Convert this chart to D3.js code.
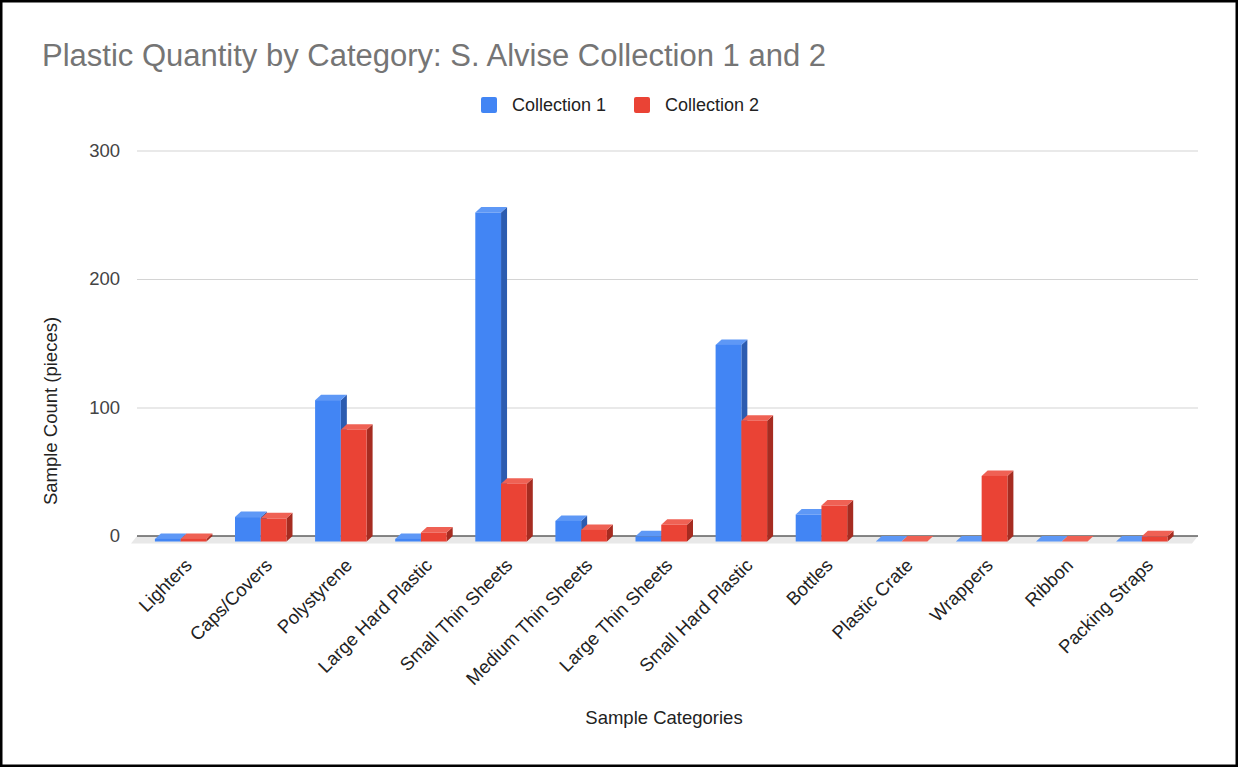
<!DOCTYPE html>
<html>
<head>
<meta charset="utf-8">
<script src="https://cdn.jsdelivr.net/npm/d3@7/dist/d3.min.js"></script>
<style>
  html, body { margin: 0; padding: 0; background: #fff; }
  svg { display: block; font-family: Arial, "Liberation Sans", sans-serif; }
</style>
</head>
<body>
<svg id="chart" width="1238" height="767"></svg>
<script>
// Plastic sample counts per category for the two S. Alvise collections
const categories = [
  "Lighters", "Caps/Covers", "Polystyrene", "Large Hard Plastic",
  "Small Thin Sheets", "Medium Thin Sheets", "Large Thin Sheets",
  "Small Hard Plastic", "Bottles", "Plastic Crate", "Wrappers",
  "Ribbon", "Packing Straps"
];
const seriesNames = ["Collection 1", "Collection 2"];
const collection1 = [2, 19, 110, 2, 256, 16, 4, 153, 21, 0, 0, 0, 0];
const collection2 = [2, 18, 87, 7, 45, 9, 13, 94, 28, 0, 51, 0, 4];
const yTicks = [0, 100, 200, 300];

const W = 1238, H = 767;
const svg = d3.select("#chart");

// Colours: front, top (lit) and side (shaded) faces per series
const palette = [
  { front: "#4285f4", top: "#5e98f6", side: "#2c5cb0" },
  { front: "#ea4335", top: "#ef6154", side: "#a62c21" }
];

// Plot geometry (back plane for the grid, front plane offset for the 3D boxes)
const gridLeft = 137, gridRight = 1198;
const depthX = 6, depthY = 5.5;

const y = d3.scaleLinear().domain([0, 300]).range([536, 150.5]);
const x = d3.scaleBand()
  .domain(categories)
  .range([140.6, 1181.9])
  .paddingInner(0.357)
  .paddingOuter(0.1785);
const xs = d3.scaleBand().domain(seriesNames).range([0, x.bandwidth()]);

// Outer frame
svg.append("rect")
  .attr("x", 1.25).attr("y", 1.25)
  .attr("width", W - 2.5).attr("height", H - 2.5)
  .attr("fill", "#fff").attr("stroke", "#000").attr("stroke-width", 2.5);

// Title
svg.append("text")
  .attr("x", 42).attr("y", 66)
  .attr("fill", "#757575")
  .attr("font-size", 31)
  .text("Plastic Quantity by Category: S. Alvise Collection 1 and 2");

// Legend
const legend = svg.append("g");
const legendX = [481, 634];
seriesNames.forEach((name, i) => {
  legend.append("rect")
    .attr("x", legendX[i]).attr("y", 97)
    .attr("width", 16).attr("height", 16).attr("rx", 2)
    .attr("fill", palette[i].front);
  legend.append("text")
    .attr("x", legendX[i] + 31).attr("y", 111)
    .attr("fill", "#222").attr("font-size", 18)
    .text(name);
});

// Gridlines and y tick labels
const yAxis = d3.axisLeft(y).tickValues(yTicks).tickSize(0).tickPadding(0);
const gy = svg.append("g").attr("transform", `translate(${gridLeft},0)`);
gy.call(yAxis);
gy.select(".domain").remove();
gy.selectAll(".tick text")
  .attr("x", -17)
  .attr("fill", "#444")
  .attr("font-size", 18.5)
  .attr("font-family", "Arial, 'Liberation Sans', sans-serif");
gy.selectAll(".tick").filter(d => d !== 0).append("line")
  .attr("x1", 0).attr("x2", gridRight - gridLeft)
  .attr("stroke", "#d4d4d4").attr("stroke-width", 1.2);

// Floor slab under the baseline
const y0 = y(0);
svg.append("path")
  .attr("d", `M${gridLeft},${y0} L${gridRight},${y0} L${gridRight - depthX},${y0 + depthY + 2} L${gridLeft - depthX},${y0 + depthY + 2} Z`)
  .attr("fill", "#e8e8e8");
svg.append("line")
  .attr("x1", gridLeft).attr("x2", gridRight)
  .attr("y1", y0).attr("y2", y0)
  .attr("stroke", "#5f5f5f").attr("stroke-width", 1.6);

// 3D boxes: front face sits depthY below / depthX left of the back plane
const rows = [];
categories.forEach((c, ci) => {
  [collection1, collection2].forEach((vals, si) => {
    rows.push({ cat: c, series: seriesNames[si], si, value: vals[ci] });
  });
});

const bars = svg.append("g").selectAll("g").data(rows).join("g");
bars.each(function (d) {
  const g = d3.select(this);
  const x0 = x(d.cat) + xs(d.series);
  const x1 = x0 + xs.bandwidth();
  const yt = y(d.value) + depthY;   // front top
  const yb = y(0) + depthY;         // front bottom
  const col = palette[d.si];
  // side face
  g.append("path")
    .attr("d", `M${x1},${yt} L${x1 + depthX},${yt - depthY} L${x1 + depthX},${yb - depthY} L${x1},${yb} Z`)
    .attr("fill", col.side);
  // top face
  g.append("path")
    .attr("d", `M${x0},${yt} L${x0 + depthX},${yt - depthY} L${x1 + depthX},${yt - depthY} L${x1},${yt} Z`)
    .attr("fill", col.top);
  // front face
  g.append("rect")
    .attr("x", x0).attr("y", yt)
    .attr("width", x1 - x0).attr("height", yb - yt)
    .attr("fill", col.front);
});

// Category labels, rotated
const xAxis = d3.axisBottom(x).tickSize(0).tickPadding(0);
const gx = svg.append("g");
gx.call(xAxis);
gx.select(".domain").remove();
gx.selectAll(".tick").attr("transform", d => `translate(${x(d) + x.bandwidth() / 2 + 3},557)`);
gx.selectAll(".tick text")
  .attr("y", 0).attr("dy", "0.72em")
  .attr("transform", "rotate(-45)")
  .attr("text-anchor", "end")
  .attr("fill", "#222")
  .attr("font-size", 18.5)
  .attr("font-family", "Arial, 'Liberation Sans', sans-serif");

// Axis titles
svg.append("text")
  .attr("x", 664).attr("y", 724)
  .attr("text-anchor", "middle")
  .attr("fill", "#222").attr("font-size", 18.5)
  .text("Sample Categories");
svg.append("text")
  .attr("transform", "translate(57,411) rotate(-90)")
  .attr("text-anchor", "middle")
  .attr("fill", "#222").attr("font-size", 18.5)
  .text("Sample Count (pieces)");
</script>
</body>
</html>
